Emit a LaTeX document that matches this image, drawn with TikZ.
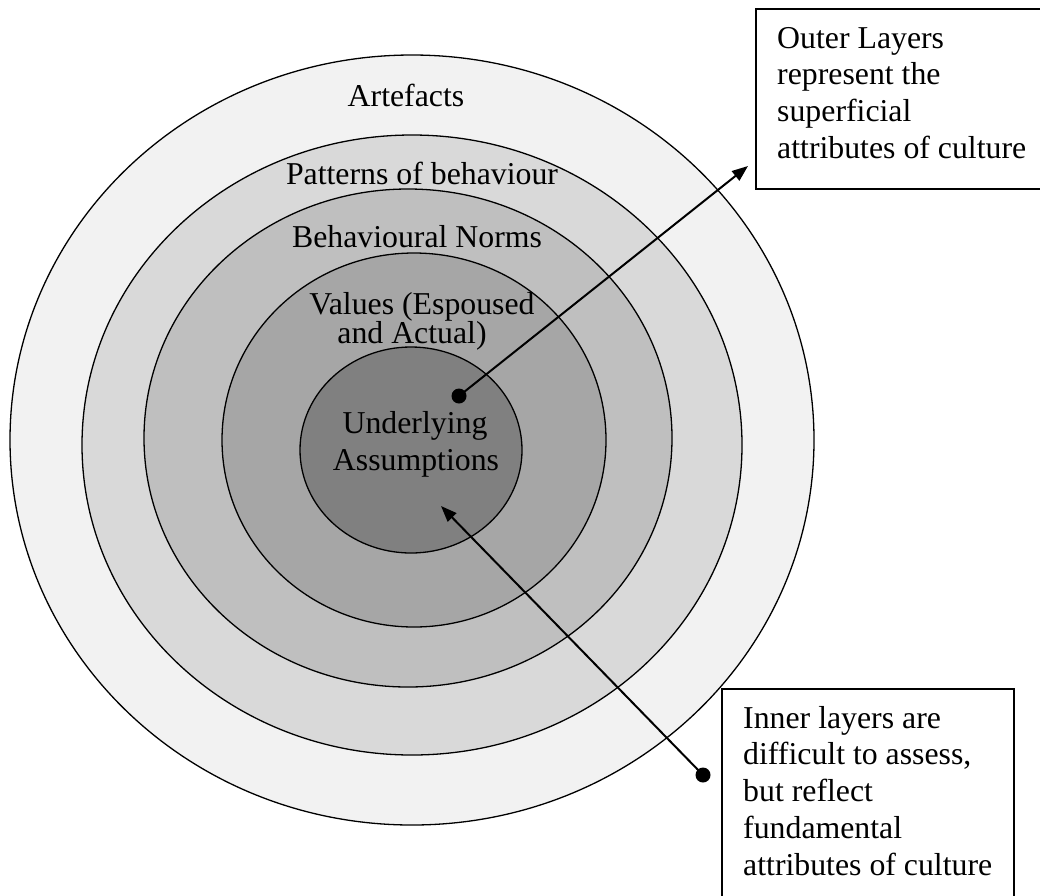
\documentclass[tikz,border=0pt]{standalone}
\usepackage{fontspec}
\setmainfont{Liberation Serif}
\usetikzlibrary{arrows.meta}
\definecolor{lA}{HTML}{F2F2F2}
\definecolor{lB}{HTML}{D9D9D9}
\definecolor{lC}{HTML}{BFBFBF}
\definecolor{lD}{HTML}{A6A6A6}
\definecolor{lE}{HTML}{808080}
\begin{document}
\begin{tikzpicture}[x=1pt,y=-1pt,
  layer/.style={draw=black, line width=1.3pt},
  lbl/.style={font=\fontsize{31.8}{36.7}\selectfont, inner sep=0pt, anchor=base},
  boxtext/.style={font=\fontsize{31.8}{36.7}\selectfont, inner sep=0pt, anchor=north west, align=left},
  boxline/.style={draw=black, line width=1.4pt},
  dotnode/.style={circle, fill=black, inner sep=0pt, minimum size=15pt},
  conn/.style={line width=2pt, -{Triangle[length=16pt,width=12pt]}}]
\useasboundingbox (0,0) rectangle (1040,895);
\clip (0,0) rectangle (1040,895);
% layers
\draw[layer, fill=lA] (412,440) ellipse [x radius=402pt, y radius=385pt];
\draw[layer, fill=lB] (412,445) ellipse [x radius=330pt, y radius=310pt];
\draw[layer, fill=lC] (408,438) ellipse [x radius=264pt, y radius=249pt];
\draw[layer, fill=lD] (414,440) ellipse [x radius=192pt, y radius=187pt];
\draw[layer, fill=lE] (411,450) ellipse [x radius=111pt, y radius=103pt];
% labels
\node[lbl] (art) at (406,106) {Artefacts};
\node[lbl] (pat) at (422,184) {Patterns of behaviour};
\node[lbl] (beh) at (417,247) {Behavioural Norms};
\node[lbl] (val1) at (422,314) {Values (Espoused};
\node[lbl] (val2) at (412,343) {and Actual)};
\node[lbl] (und1) at (415,433) {Underlying};
\node[lbl] (und2) at (416,470) {Assumptions};
% boxes
\draw[boxline] (756,9) rectangle (1050,189);
\draw[boxline] (722,689) rectangle (1014,905);
\node[boxtext] (outer) at (777,27) {Outer Layers\\represent the\\superficial\\attributes of culture};
\node[boxtext] (inner) at (743,706) {Inner layers are\\difficult to assess,\\but reflect\\fundamental\\attributes of culture};
% connectors
\node[dotnode] (d1) at (459,396) {};
\node[dotnode] (d2) at (703,775) {};
\coordinate (t1) at (748,166);
\coordinate (t2) at (441,506);
\draw[conn] (d1.center) -- (t1);
\draw[conn] (d2.center) -- (t2);
\end{tikzpicture}
\end{document}
